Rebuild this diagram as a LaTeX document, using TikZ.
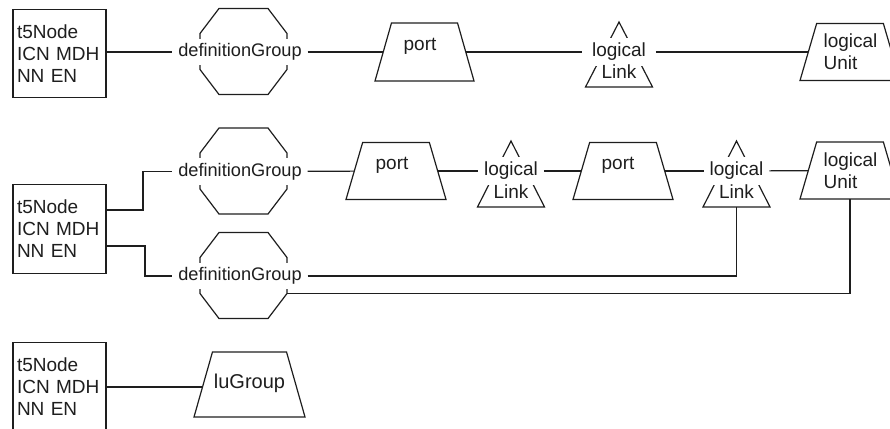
\documentclass[tikz,border=0pt]{standalone}
\usepackage{fontspec}
\setmainfont{Liberation Sans}
\usetikzlibrary{shapes.geometric,calc}
\definecolor{ink}{HTML}{1E1E1E}
\newcommand\octag[1]{\draw (#1) ++(-24.5,-43) -- ++(49,0) -- ++(19,25) -- ++(0,36) -- ++(-19,25) -- ++(-49,0) -- ++(-19,-25) -- ++(0,-36) -- cycle;}
\newcommand\linktri[3]{\draw (#1,#2) -- ++(33.5,#3) -- ++(-67,0) -- cycle;}
\begin{document}
\begin{tikzpicture}[x=1pt,y=-1pt,line width=1.2pt,color=ink,
  every node/.style={outer sep=0pt},
  boxn/.style={draw,rectangle,minimum width=93pt,minimum height=88.5pt,text width=85pt,inner xsep=4pt,align=left,font=\fontsize{19}{22}\selectfont},
  lbl/.style={fill=white,inner xsep=6pt,inner ysep=5pt,font=\fontsize{19}{22}\selectfont},
  dgl/.style={lbl,font=\fontsize{18.2}{22}\selectfont},
  txt/.style={inner sep=0pt,font=\fontsize{19}{22}\selectfont},
  trap/.style={draw,trapezium,trapezium left angle=76,trapezium right angle=76,trapezium stretches=true,minimum width=99pt,minimum height=58pt,inner sep=3pt}
]
\useasboundingbox (0,0) rectangle (890,428);
\clip (0,0) rectangle (890,428);

% ---------- row 1 ----------
\node[boxn] (b1) at (59.5,53.5) {t5Node\\ICN MDH\\NN EN};
\coordinate (o1) at (243.5,51.5);
\octag{o1}
\node[dgl] (dg1) at (240,52) {definitionGroup};
\node[trap] (p1) at (424.5,52) {};
\node[txt] (p1t) at (420,46) {port};
\linktri{619}{22}{65}
\node[lbl,inner xsep=10pt] (ll1) at (619,52) {logical};
\node[txt] (ll1b) at (619,72) {Link};
\node[trap,minimum width=100pt,minimum height=57pt] (lu1) at (850,52) {};
\node[txt,align=left] (lu1t) at (850.5,52) {logical\\Unit};

\draw (b1.east |- dg1) -- (dg1.west);
\draw (dg1) -- (p1);
\draw (p1) -- (ll1);
\draw (ll1) -- (lu1);

% ---------- row 2 ----------
\node[boxn] (b2) at (59.5,229) {t5Node\\ICN MDH\\NN EN};
\coordinate (o2) at (243.5,171);
\octag{o2}
\node[dgl] (dg2) at (240,171.5) {definitionGroup};
\node[trap,minimum width=100pt,minimum height=57pt] (p2) at (396,171) {};
\node[txt] (p2t) at (392,165) {port};
\linktri{511}{141}{66}
\node[lbl] (ll2) at (511,171) {logical};
\node[txt] (ll2b) at (511,192) {Link};
\node[trap,minimum width=100pt,minimum height=57pt] (p3) at (623,171) {};
\node[txt] (p3t) at (618,165) {port};
\linktri{736.5}{141}{66}
\coordinate (ll3base) at (736.5,207);
\node[lbl] (ll3) at (736.5,171) {logical};
\node[txt] (ll3b) at (736.5,192) {Link};
\node[trap,minimum width=100pt,minimum height=57pt] (lu2) at (850,170.5) {};
\node[txt,align=left] (lu2t) at (850.5,171) {logical\\Unit};

\coordinate (o3) at (243.5,275.5);
\octag{o3}
\coordinate (o3c) at ($(o3)+(43.5,18)$);
\node[dgl] (dg3) at (240,276) {definitionGroup};

\draw ([yshift=19pt]b2.east) -- ++(37,0) |- (dg2.west);
\draw ([yshift=-17pt]b2.east) -- ++(39,0) |- (dg3.west);
\draw (dg2) -- (p2);
\draw (p2) -- (ll2);
\draw (ll2) -- (p3);
\draw (p3) -- (ll3);
\draw (ll3) -- (lu2);
\draw (dg3.east) -| (ll3base);
\draw (o3c) -| (lu2.south);

% ---------- row 3 ----------
\node[boxn] (b3) at (59.5,387) {t5Node\\ICN MDH\\NN EN};
\node[trap,minimum width=111pt,minimum height=65pt] (lug) at (249.5,384.5) {};
\node[txt,font=\fontsize{20}{22}\selectfont] (lugt) at (249.5,383) {luGroup};
\draw (b3.east) -- (b3.east -| lug.west);
\end{tikzpicture}
\end{document}
